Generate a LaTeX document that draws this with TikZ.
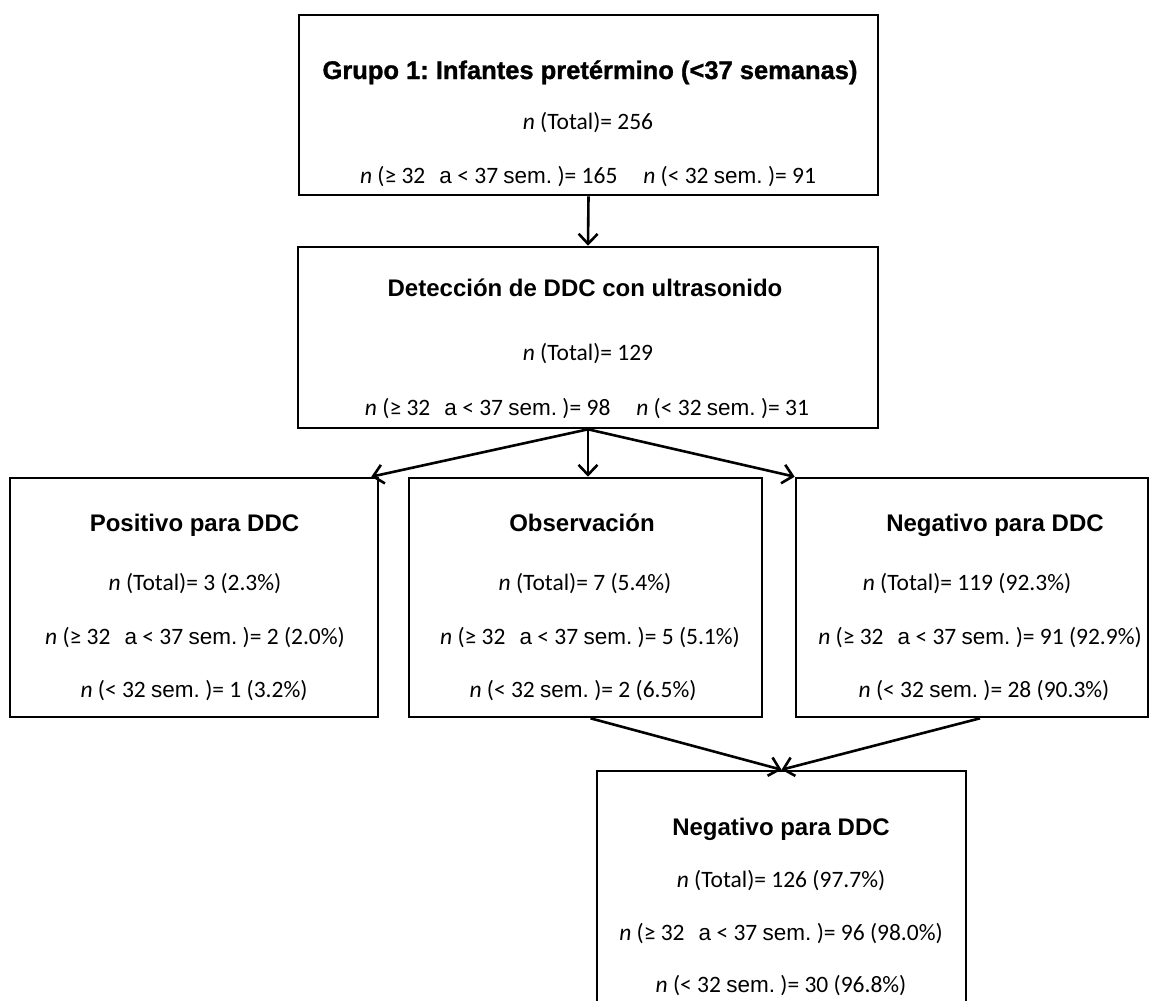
\documentclass[tikz,border=0pt]{standalone}
\usepackage{fontspec}
\setmainfont{Carlito}
\newfontfamily\arialf{Liberation Sans}
\newfontfamily\arialheavy{Liberation Sans}[FakeBold=1.2]
\usetikzlibrary{arrows.meta,positioning}
\frenchspacing

\tikzset{
	box/.style={draw=black, line width=2.6pt, rectangle, inner sep=0pt},
	title/.style={anchor=base, font=\arialheavy\bfseries\fontsize{25.5}{28}\selectfont},
	head/.style={anchor=base, font=\arialf\bfseries\fontsize{24}{27}\selectfont},
	txt/.style={anchor=base, font=\fontsize{23.5}{27}\selectfont},
	flow/.style={line width=2.6pt, draw=black, -{Straight Barb[length=10pt,width=19pt,line width=2.6pt]}}
}
\newcommand{\arialpart}[1]{{\arialf\fontsize{22.5}{26}\selectfont #1}}
\newcommand{\rangew}{\textit{n} (≥ 32\hspace{0.6em}\arialpart{a} < 37 \arialpart{sem.}\ )}
\newcommand{\lessw}{\textit{n} (< 32 \arialpart{sem.}\ )}

\begin{document}
\begin{tikzpicture}[x=1pt,y=-1pt]
	\useasboundingbox (0,0) rectangle (1159,1001);

	% Group 1
	\node[box, minimum width=579pt, minimum height=180pt] (grupo) at (588.5,105) {};
	\node[title] (grupo-h) at (590,79) {Grupo 1: Infantes pretérmino (<37 semanas)};
	\node[txt] (grupo-t) at (588,129) {\textit{n} (Total)= 256};
	\node[txt] (grupo-s) at (588,183) {\rangew= 165\hspace{1.1em}\lessw= 91};

	% Ultrasound
	\node[box, minimum width=580pt, minimum height=181pt] (ddc) at (588,337.5) {};
	\node[head] (ddc-h) at (585,296) {Detección de DDC con ultrasonido};
	\node[txt] (ddc-t) at (588,360) {\textit{n} (Total)= 129};
	\node[txt] (ddc-s) at (587,415) {\rangew= 98\hspace{1.1em}\lessw= 31};

	% Positive
	\node[box, minimum width=368pt, minimum height=239pt] (pos) at (194,597.5) {};
	\node[head] (pos-h) at (194.5,531) {Positivo para DDC};
	\node[txt] (pos-t) at (195,590) {\textit{n} (Total)= 3 (2.3\%)};
	\node[txt] (pos-a) at (195,644) {\rangew= 2 (2.0\%)};
	\node[txt] (pos-b) at (194,697) {\lessw= 1 (3.2\%)};

	% Observation
	\node[box, minimum width=353pt, minimum height=239pt] (obs) at (585.5,597.5) {};
	\node[head] (obs-h) at (582,531) {Observación};
	\node[txt] (obs-t) at (585,590) {\textit{n} (Total)= 7 (5.4\%)};
	\node[txt] (obs-a) at (590,644) {\rangew= 5 (5.1\%)};
	\node[txt] (obs-b) at (583,697) {\lessw= 2 (6.5\%)};

	% Negative
	\node[box, minimum width=352pt, minimum height=239pt] (neg) at (972,597.5) {};
	\node[head] (neg-h) at (995,531) {Negativo para DDC};
	\node[txt] (neg-t) at (967,590) {\textit{n} (Total)= 119 (92.3\%)};
	\node[txt] (neg-a) at (980,644) {\rangew= 91 (92.9\%)};
	\node[txt] (neg-b) at (984,697) {\lessw= 28 (90.3\%)};

	% Final negative
	\node[box, minimum width=369pt, minimum height=244pt] (fin) at (781.5,893) {};
	\node[head] (fin-h) at (781,835) {Negativo para DDC};
	\node[txt] (fin-t) at (781,887) {\textit{n} (Total)= 126 (97.7\%)};
	\node[txt] (fin-a) at (781,940) {\rangew= 96 (98.0\%)};
	\node[txt] (fin-b) at (781,992) {\lessw= 30 (96.8\%)};

	% Connectors
	\draw[flow] (grupo.south) -- (ddc.north);
	\draw[flow] (ddc.south) -- ([xshift=-8pt]pos.north east);
	\draw[flow] (ddc.south) -- (ddc.south |- obs.north);
	\draw[flow] (ddc.south) -- (neg.north west);
	\draw[flow] ([xshift=5pt]obs.south) -- (fin.north);
	\draw[flow] ([xshift=8pt]neg.south) -- (fin.north);
\end{tikzpicture}
\end{document}
